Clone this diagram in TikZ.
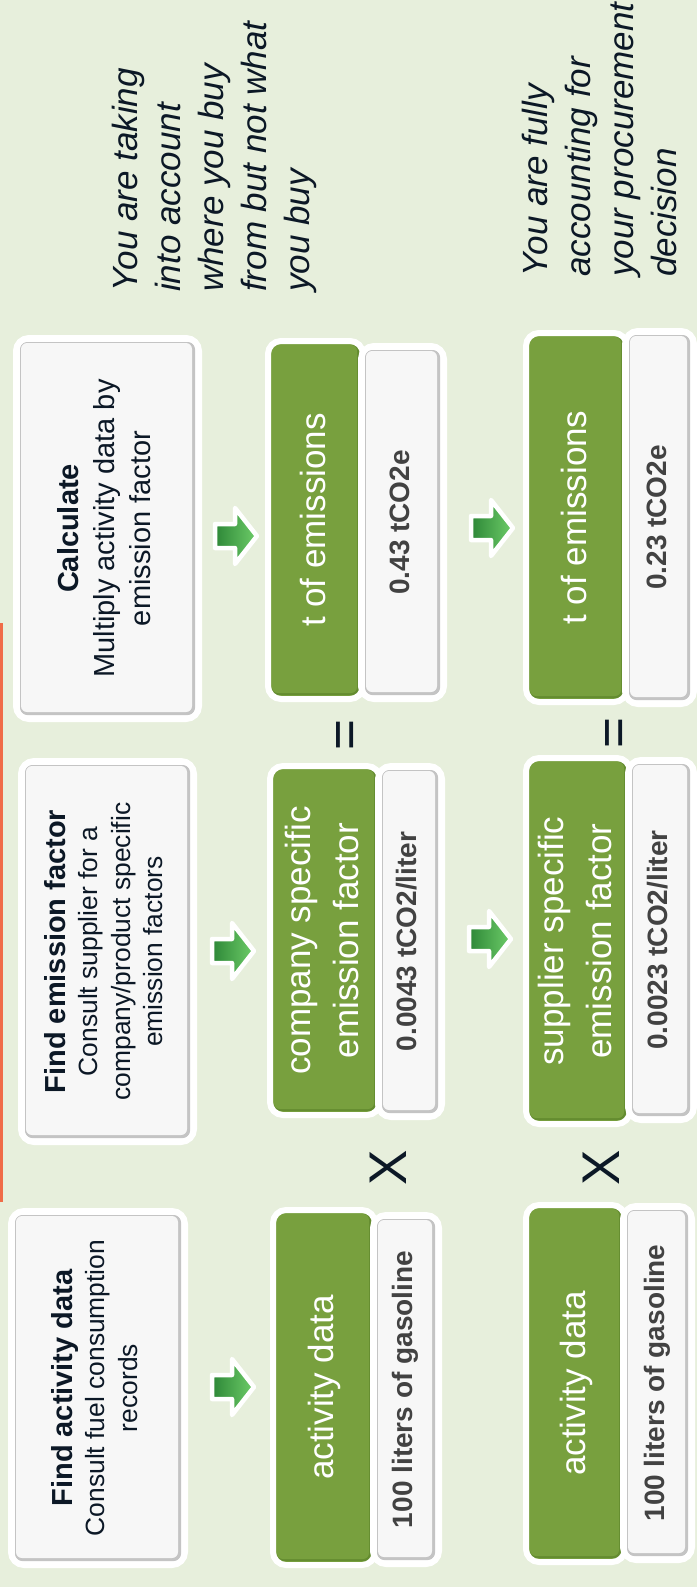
\documentclass[tikz,border=0pt]{standalone}
\usepackage{fontspec}
\setmainfont{Liberation Sans}
\usepackage{graphicx}
\usetikzlibrary{shadows,calc}

\definecolor{bg}{RGB}{231,239,220}
\definecolor{navy}{RGB}{12,24,38}
\definecolor{leaf}{RGB}{120,160,62}
\definecolor{leafdark}{RGB}{100,140,48}
\definecolor{face}{RGB}{247,247,247}
\definecolor{faceedge}{RGB}{196,196,196}
\definecolor{valtext}{RGB}{66,66,66}
\definecolor{arrowlight}{RGB}{110,205,105}
\definecolor{arrowdark}{RGB}{45,135,55}
\definecolor{rulecol}{RGB}{240,108,72}

\newcommand\vtext[1]{\rotatebox{90}{\begin{tabular}{@{}c@{}}#1\end{tabular}}}
\newcommand\headline[1]{{\fontsize{29}{32.5}\selectfont\bfseries #1}}

\tikzset{
  boxshadow/.style={drop shadow={shadow xshift=1.5pt, shadow yshift=-2pt, opacity=0.22, fill=black!55}},
  card/.style={draw=white, line width=6pt, rounded corners=13pt, inner sep=0pt, boxshadow},
  bevel/.style={path picture={
      \fill[faceedge, rounded corners=7pt]
        ([shift={(4pt,-4pt)}]path picture bounding box.north west) rectangle
        ([shift={(-4pt,4pt)}]path picture bounding box.south east);
      \fill[face, rounded corners=6pt]
        ([shift={(5pt,-5pt)}]path picture bounding box.north west) rectangle
        ([shift={(-7pt,7pt)}]path picture bounding box.south east);}},
  greenface/.style={path picture={
      \fill[leafdark, rounded corners=7pt]
        ([shift={(4pt,-4pt)}]path picture bounding box.north west) rectangle
        ([shift={(-4pt,4pt)}]path picture bounding box.south east);
      \fill[leaf, rounded corners=6pt]
        ([shift={(4pt,-4pt)}]path picture bounding box.north west) rectangle
        ([shift={(-6pt,6pt)}]path picture bounding box.south east);}},
  stepbox/.style={card, fill=white, bevel, text=navy, font=\fontsize{26.4}{32.5}\selectfont},
  greenbox/.style={card, fill=leaf, greenface, text=white, font=\fontsize{35}{48}\selectfont},
  valuebox/.style={card, fill=white, bevel, text=valtext, font=\fontsize{28}{34}\selectfont\bfseries},
  sign/.style={text=navy, inner sep=0pt, rotate=90, font=\fontsize{53}{53}\selectfont},
  note/.style={text=navy, inner sep=0pt, rotate=90, anchor=north west, align=left,
               font=\fontsize{35}{43}\selectfont\itshape},
  garrow/.pic={
    \draw[white, line width=4.5pt, line join=round, left color=arrowdark, right color=arrowlight,
          drop shadow={shadow xshift=1pt, shadow yshift=-1.5pt, opacity=0.2, fill=black!60}]
      (-20,-12) -- (0,-12) -- (0,-28) -- (22,0) -- (0,28) -- (0,12) -- (-20,12) -- cycle;}
}

\begin{document}
\begin{tikzpicture}[x=1pt,y=-1pt]
\useasboundingbox (0,0) rectangle (697,1587);
\fill[bg] (0,0) rectangle (697,1587);

% orange rule on the left edge
\coordinate (ruletop) at (1.5,623);
\coordinate (rulebot) at (1.5,1202);
\draw[rulecol, line width=3pt] (ruletop) -- (rulebot);

% the three steps
\node[stepbox, minimum width=174pt, minimum height=354pt] (findact) at (98,1388)
  {\vtext{\headline{Find activity data}\\Consult fuel consumption\\records}};
\node[stepbox, minimum width=173pt, minimum height=381pt] (findef) at (107.5,951.5)
  {\vtext{\headline{Find emission factor}\\Consult supplier for a\\company/product specific\\emission factors}};
\node[stepbox, minimum width=183pt, minimum height=381pt, font=\fontsize{29}{36}\selectfont] (calc) at (107.5,528.5)
  {\vtext{\textbf{Calculate}\\Multiply activity data by\\emission factor}};

% arrows from the steps to the results
\pic (arrA) at (232,1387) {garrow};
\pic (arrB) at (232,951) {garrow};
\pic (arrC) at (235,536) {garrow};
\pic (arrD) at (489,939) {garrow};
\pic (arrE) at (491,528) {garrow};

% first line of results
\node[greenbox, minimum width=102pt, minimum height=355pt] (actA) at (324,1387.5) {\vtext{activity data}};
\node[valuebox, minimum width=66pt, minimum height=349pt] (valA) at (406,1389.5) {\vtext{100 liters of gasoline}};
\node[greenbox, minimum width=110pt, minimum height=349pt] (efA) at (325,940.5) {\vtext{company specific\\emission factor}};
\node[valuebox, minimum width=64pt, minimum height=351pt] (valB) at (410,941.5) {\vtext{0.0043 tCO2/liter}};
\node[greenbox, minimum width=95pt, minimum height=358pt] (emA) at (315.5,520) {\vtext{t of emissions}};
\node[valuebox, minimum width=83pt, minimum height=353pt] (valC) at (402.5,522.5) {\vtext{0.43 tCO2e}};

% second line of results
\node[greenbox, minimum width=99pt, minimum height=357pt] (actB) at (575.5,1383.5) {\vtext{activity data}};
\node[valuebox, minimum width=69pt, minimum height=354pt] (valD) at (657.5,1383) {\vtext{100 liters of gasoline}};
\node[greenbox, minimum width=104pt, minimum height=366pt] (efB) at (578,941) {\vtext{supplier specific\\emission factor}};
\node[valuebox, minimum width=66pt, minimum height=360pt] (valE) at (661,940) {\vtext{0.0023 tCO2/liter}};
\node[greenbox, minimum width=101pt, minimum height=369pt] (emB) at (576.5,517.5) {\vtext{t of emissions}};
\node[valuebox, minimum width=69pt, minimum height=373pt] (valF) at (659.5,517.5) {\vtext{0.23 tCO2e}};

% operators
\node[sign] (timesA) at (388,1168) {X};
\node[sign] (timesB) at (601,1168) {X};
\node[sign] (eqA) at (350,735) {=};
\node[sign] (eqB) at (619,733) {=};

% comments on each line
\node[note] (noteA) at (112,292) {You are taking\\into account\\where you buy\\from but not what\\you buy};
\node[note] (noteB) at (522,277) {You are fully\\accounting for\\your procurement\\decision};
\end{tikzpicture}
\end{document}
